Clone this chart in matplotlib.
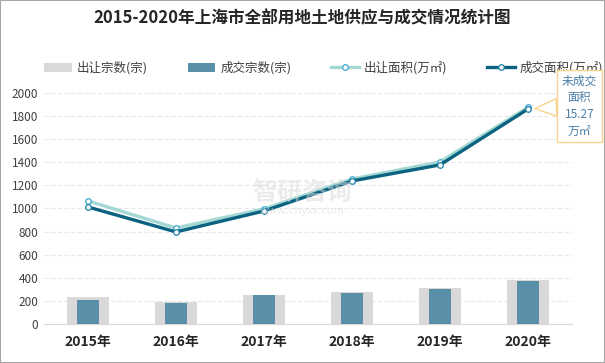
import matplotlib.pyplot as plt
import numpy as np

plt.rcParams['font.family'] = ['Noto Sans CJK SC', 'DejaVu Sans']

# 数据
years = ["2015年", "2016年", "2017年", "2018年", "2019年", "2020年"]
supply_count = [235, 190, 254, 277, 312, 381]      # 出让宗数(宗)
deal_count = [210, 182, 251, 268, 303, 372]        # 成交宗数(宗)
supply_area = [1065, 831, 996, 1255, 1403, 1876]   # 出让面积(万㎡)
deal_area = [1013, 797, 978, 1238, 1377, 1861]     # 成交面积(万㎡)
yticks = list(range(0, 2001, 200))

fig = plt.figure(figsize=(6.05, 3.63), dpi=100)
ax = fig.add_axes([0.0727, 0.1074, 0.8727, 0.6366])

x = np.arange(len(years))
b1 = ax.bar(x, supply_count, width=0.47, color='#d9d9d9', label='出让宗数(宗)', zorder=2)
b2 = ax.bar(x, deal_count, width=0.25, color='#5b8fa8', label='成交宗数(宗)', zorder=3)

l1, = ax.plot(x, supply_area, color='#a3d8d4', lw=2.4, marker='o', ms=4,
              mfc='white', mec='#3aa6cf', mew=0.9, label='出让面积(万㎡)', zorder=4)
l2, = ax.plot(x, deal_area, color='#0b6281', lw=2.4, marker='o', ms=4,
              mfc='white', mec='#1e7fa8', mew=0.9, label='成交面积(万㎡)', zorder=5)

ax.set_xlim(-0.5, len(years) - 0.5)
ax.set_ylim(0, 2000)
ax.set_yticks(yticks)
ax.set_xticks(x)
ax.set_xticklabels(years, fontsize=10, fontweight='bold', color='#262626')
ax.tick_params(axis='y', labelsize=8.5, colors='#404040', length=0, pad=4)
ax.tick_params(axis='x', length=0, pad=8)
ax.grid(axis='y', color='#e8e8e8', lw=0.8, ls=(0, (4, 2)), zorder=0)
for s in ['top', 'right', 'left']:
    ax.spines[s].set_visible(False)
ax.spines['bottom'].set_color('#d9d9d9')

# 未成交面积标注
ax.annotate('未成交\n面积\n15.27\n万㎡', xy=(x[-1], deal_area[-1]),
            xytext=(37, 2), textcoords='offset points', ha='center', va='center',
            fontsize=8.5, color='#4a7fa8', linespacing=1.35, annotation_clip=False,
            bbox=dict(boxstyle='square,pad=0.4', fc='white', ec='#f7d58c', lw=1),
            arrowprops=dict(arrowstyle='wedge,tail_width=1.5', fc='white', ec='#f7d58c',
                            lw=1, shrinkA=0, shrinkB=5), zorder=6)

ax.legend([b1, b2, l1, l2], [h.get_label() for h in [b1, b2, l1, l2]],
          loc='lower center', bbox_to_anchor=(0.53, 1.03), ncol=4, frameon=False,
          fontsize=9, labelcolor='#404040', handlelength=2.2, columnspacing=3.2,
          handletextpad=0.4)

fig.text(0.5, 0.95, '2015-2020年上海市全部用地土地供应与成交情况统计图', ha='center',
         va='center', fontsize=12, fontweight='bold', color='#262626')
fig.text(0.5, 0.47, '智研咨询', ha='center', va='center', fontsize=18,
         color='#d9d9d9', alpha=0.5, fontweight='bold')
fig.text(0.5, 0.42, 'www.chyxx.com', ha='center', va='center', fontsize=8,
         color='#d9d9d9', alpha=0.5)

fig.patches.append(plt.Rectangle((0, 0), 1, 1, transform=fig.transFigure,
                                 fill=False, ec='#a6a6a6', lw=1.5))

fig.savefig('out.png', dpi=100)
